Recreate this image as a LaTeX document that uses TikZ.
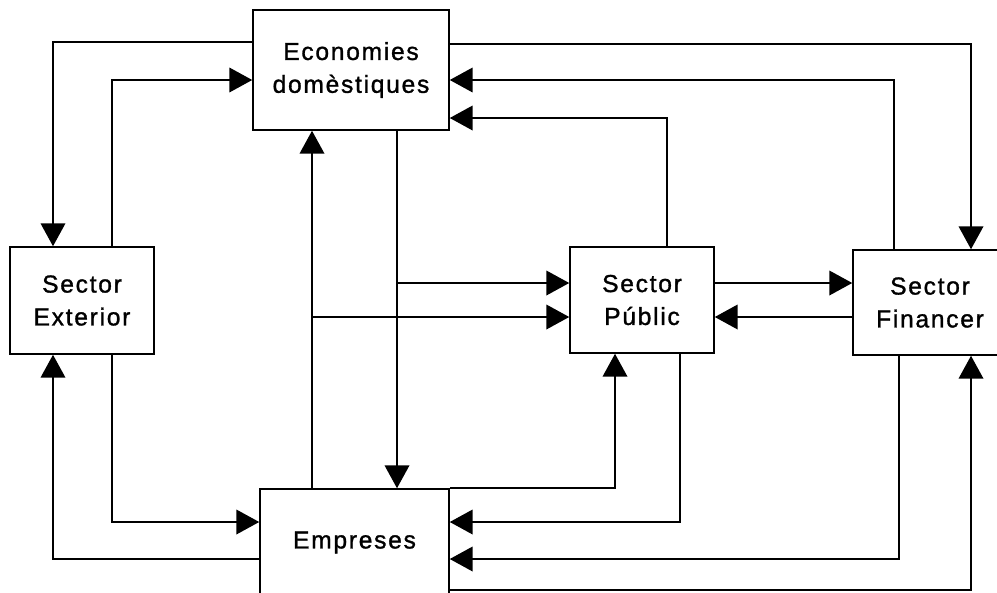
\documentclass[tikz,border=0pt]{standalone}
\usepackage{fontspec}
\setmainfont{Liberation Sans}[LetterSpace=7, FakeBold=1.2]
\usetikzlibrary{arrows.meta}

\begin{document}
\begin{tikzpicture}[x=0.02cm, y=-0.02cm,
    sector/.style={draw, line width=0.9pt, align=center, inner sep=0pt,
        font=\fontsize{14}{18.7}\selectfont},
    flux/.style={line width=0.9pt, -{Triangle[length=13pt, width=14pt]}}]
    \useasboundingbox (0,0) rectangle (997,592);
    \clip (0,0) rectangle (997,592);

    % sectors
    \node[sector, minimum width=3.92cm, minimum height=2.4cm] (eco) at (351,70) {Economies\\domèstiques};
    \node[sector, minimum width=2.88cm, minimum height=2.14cm] (ext) at (82,300.5) {Sector\\Exterior};
    \node[sector, minimum width=2.88cm, minimum height=2.12cm] (pub) at (642,300) {Sector\\Públic};
    \node[sector, minimum width=3.08cm, minimum height=2.1cm] (fin) at (930,302.5) {Sector\\Financer};
    \node[sector, minimum width=3.78cm, minimum height=2.14cm] (emp) at (354.5,542.5) {Empreses};

    % flows around the top
    \draw[flux] (eco.west |- 0,42) -| (53,0 |- ext.north);
    \draw[flux] (112,0 |- ext.north) |- (eco.west |- 0,80);
    \draw[flux] (eco.east |- 0,44) -| (971,0 |- fin.north);
    \draw[flux] (894,0 |- fin.north) |- (eco.east |- 0,80);
    \draw[flux] (667,0 |- pub.north) |- (eco.east |- 0,118);

    % flows through the middle
    \draw[flux] (312,0 |- emp.north) -- (312,0 |- eco.south);
    \draw[flux] (312,317) -- (pub.west |- 0,317);
    \draw[flux] (397,0 |- eco.south) -- (397,0 |- emp.north);
    \draw[flux] (397,283) -- (pub.west |- 0,283);
    \draw[flux] (pub.east |- 0,283) -- (fin.west |- 0,283);
    \draw[flux] (fin.west |- 0,317) -- (pub.east |- 0,317);

    % flows around the bottom
    \draw[flux] (112,0 |- ext.south) |- (emp.west |- 0,522);
    \draw[flux] (emp.west |- 0,559) -| (53,0 |- ext.south);
    \draw[flux] (emp.north east) -| (615,0 |- pub.south);
    \draw[flux] (680,0 |- pub.south) |- (emp.east |- 0,522);
    \draw[flux] (899,0 |- fin.south) |- (emp.east |- 0,559);
    \draw[flux] (emp.east |- 0,590) -| (971,0 |- fin.south);
\end{tikzpicture}
\end{document}
